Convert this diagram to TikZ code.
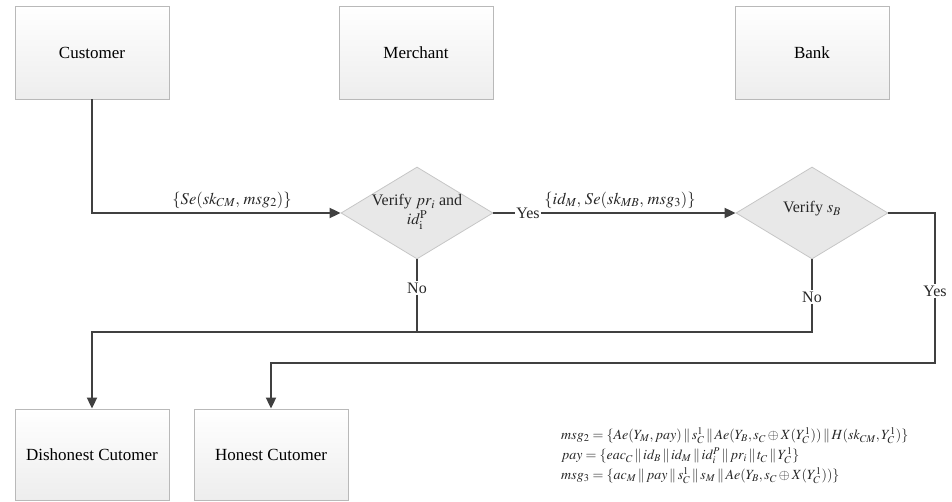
\documentclass[tikz,border=0pt]{standalone}
\usepackage{mathptmx}
\usepackage[no-math]{fontspec}
\setmainfont{Liberation Serif}
\usetikzlibrary{arrows.meta,shapes.geometric,shadows}
\begin{document}
\begin{tikzpicture}[x=1pt,y=-1pt,
  box/.style={draw=gray!55, line width=0.8pt, top color=white, bottom color=gray!14,
    minimum width=154pt, minimum height=93pt, inner sep=0pt,
    drop shadow={shadow xshift=1.2pt, shadow yshift=-1.2pt, opacity=0.35, fill=gray},
    font=\fontsize{17}{20}\selectfont},
  dia/.style={diamond, draw=gray!45, fill=gray!18, line width=0.8pt,
    minimum width=152pt, minimum height=92pt, inner sep=0pt},
  conn/.style={draw=black!75, line width=1.8pt},
  arr/.style={conn, -{Triangle[length=11pt,width=10pt]}},
  lab/.style={font=\fontsize{16}{18}\selectfont, inner sep=1pt, text=black!85},
  dtext/.style={font=\fontsize{16}{18}\selectfont, align=center, inner sep=0pt, text=black!85},
  elab/.style={font=\fontsize{16.5}{18}\selectfont, inner sep=0pt, text=black!85},
  form/.style={font=\fontsize{14}{16}\selectfont, inner sep=0pt, anchor=west, text=black!85}
]
\useasboundingbox (0,0) rectangle (952,502);

% boxes
\node[box] (cust) at (92,52.5) {Customer};
\node[box] (merch) at (416,52.5) {Merchant};
\node[box] (bank) at (812,52.5) {Bank};
\node[box, minimum height=91pt] (dis) at (92,454.5) {Dishonest Cutomer};
\node[box, minimum height=91pt] (hon) at (271,454.5) {Honest Cutomer};

% diamonds
\node[dia] (d1) at (417,213) {};
\node[dia] (d2) at (812,213) {};
\node[dtext] (t1) at (417,212) {Verify $pr_i$ and\\[1pt]$id_{\mathrm{i}}^{\mathrm{P}}$};
\node[dtext] (t2) at (812,209) {Verify $s_B$};

% labels
\node[lab] (yes1) at (528,213) {Yes};
\node[lab] (no1) at (417,288) {No};
\node[lab] (no2) at (812,297) {No};
\node[lab] (yes2) at (935,291) {Yes};

\coordinate (jn) at (812,332);
\coordinate (jy) at (935,363);

% connectors
\draw[arr] (cust.south) |- (d1.west);
\draw[conn] (d1.east) -- (yes1.west);
\draw[arr] (yes1.east) -- (d2.west);
\draw[conn] (d1.south) -- (no1.north);
\draw[conn] (no1.south) -- (no1.south |- jn);
\draw[conn] (d2.south) -- (no2.north);
\draw[arr] (no2.south) -- (jn) -| (dis.north);
\draw[conn] (d2.east) -| (yes2.north);
\draw[arr] (yes2.south) -- (jy) -| (hon.north);

% edge labels
\node[elab] (l1) at (232,200) {$\{Se(sk_{CM},\,msg_2)\}$};
\node[elab] (l2) at (620,200) {$\{id_M,\,Se(sk_{MB},\,msg_3)\}$};

% formulas
\node[form] (f1) at (561,436) {$msg_2=\{Ae(Y_M,pay)\,\|\,s_C^1\,\|\,Ae(Y_B,s_C\oplus X(Y_C^1))\,\|\,H(sk_{CM},Y_C^1)\}$};
\node[form] (f2) at (561,456) {$pay=\{eac_C\,\|\,id_B\,\|\,id_M\,\|\,id_i^P\,\|\,pr_i\,\|\,t_C\,\|\,Y_C^1\}$};
\node[form] (f3) at (561,476) {$msg_3=\{ac_M\,\|\,pay\,\|\,s_C^1\,\|\,s_M\,\|\,Ae(Y_B,s_C\oplus X(Y_C^1))\}$};
\end{tikzpicture}
\end{document}
